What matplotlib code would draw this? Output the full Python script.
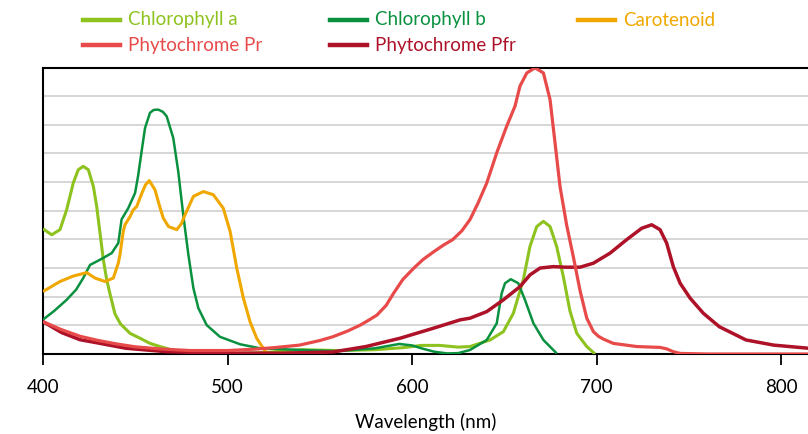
import matplotlib
matplotlib.use("Agg")
import matplotlib.pyplot as plt
from matplotlib.lines import Line2D

plt.rcParams['font.family'] = ['Lato', 'DejaVu Sans']

# absorbance spectra (arbitrary units, 0..10)
chla_wl = [400, 404.7, 409.2, 412.8, 416.4, 419.1, 421.8, 424.6, 427.3, 429.1, 430.9, 432.7, 434.5, 436.3, 439,
           442, 447.2, 452.6, 458, 463.4, 470, 480, 500, 520, 540, 560, 580, 595, 605, 615, 625, 631.4, 642.3,
           649.5, 654.9, 660.3, 663.9, 667.6, 671.2, 674.8, 678.4, 682, 685.6, 689.3, 694.7, 699.2]
chla_val = [4.37, 4.16, 4.34, 5.03, 5.97, 6.43, 6.55, 6.43, 5.85, 5.15, 4.22, 3.29, 2.6, 2.1, 1.4,
            1.05, 0.72, 0.55, 0.37, 0.26, 0.14, 0.05, 0.0, 0.05, 0.15, 0.12, 0.15, 0.22, 0.3, 0.3, 0.24, 0.26, 0.49,
            0.78, 1.42, 2.59, 3.75, 4.45, 4.63, 4.45, 3.75, 2.7, 1.5, 0.72, 0.26, 0.0]

chlb_wl = [400, 406, 412.8, 418, 421.8, 425.5, 430.9, 437.2, 440.8, 442.6, 446.2, 449.9, 451.5, 453.5, 455.3,
           458, 460, 462.5, 465, 467, 470.6, 473.3, 476, 478.8, 481.5, 484.2, 488.7, 495.9, 506.8, 517.6, 540,
           560, 580, 593, 600, 605, 612, 619, 625, 631.4, 640.5, 645.9, 648.6, 650.4, 653.5, 657.6, 661.2,
           665.8, 671.2, 678.4]
chlb_val = [1.2, 1.5, 1.89, 2.25, 2.65, 3.11, 3.29, 3.52, 3.87, 4.7, 5.09, 5.62, 6.2, 7.1, 7.89,
            8.42, 8.52, 8.53, 8.45, 8.3, 7.54, 6.37, 4.86, 3.46, 2.3, 1.6, 1.01, 0.6, 0.34, 0.2, 0.14,
            0.1, 0.2, 0.35, 0.3, 0.2, 0.08, 0.02, 0.03, 0.14, 0.49, 1.07, 2.12, 2.47, 2.61, 2.47, 1.89,
            1.07, 0.49, 0.02]

car_wl = [400, 409.2, 416.4, 423.7, 428.2, 433.6, 438.1, 440.8, 441.7, 443.5, 444.4, 447.2, 448.9, 450.8, 453.5,
          455.5, 457.6, 460.7, 463, 465.2, 468, 472.5, 475, 477, 481.5, 486.9, 492.3, 497.7, 501.4, 505, 508.6,
          512.2, 515.8, 519.4, 521]
car_val = [2.18, 2.53, 2.72, 2.84, 2.65, 2.53, 2.65, 3.17, 3.46, 4.28, 4.51, 4.8, 5.03, 5.15, 5.6,
           5.9, 6.05, 5.73, 5.2, 4.74, 4.45, 4.34, 4.55, 4.86, 5.5, 5.67, 5.56, 5.09, 4.28, 3.0, 1.95,
           1.13, 0.55, 0.2, 0.05]

pr_wl = [400, 410, 420, 430, 440, 450, 465, 480, 500, 515, 525, 539, 550, 557, 565, 572, 577, 581, 586, 590,
         595, 601, 606, 612, 617, 622, 627, 631.4, 636, 640.5, 645.9, 651.3, 655.8, 658.5, 662.2, 666.7, 671.2,
         674.8, 677.5, 680.2, 683.8, 687.4, 691.1, 694.7, 698.3, 701, 703.7, 709.1, 721.8, 734.4, 738, 741.6,
         745.3, 760, 815]
pr_val = [1.13, 0.85, 0.62, 0.47, 0.35, 0.25, 0.17, 0.12, 0.12, 0.17, 0.22, 0.31, 0.47, 0.6, 0.8, 1.01, 1.2, 1.36, 1.7, 2.12,
          2.6, 3.0, 3.3, 3.58, 3.8, 3.99, 4.3, 4.69, 5.3, 5.97, 7.02, 7.95, 8.65, 9.35, 9.81, 9.99, 9.81,
          8.88, 7.37, 5.85, 4.5, 3.4, 2.2, 1.25, 0.78, 0.62, 0.52, 0.37, 0.26, 0.23, 0.18, 0.08,
          0.02, 0.0, 0.0]

pfr_wl = [400, 410, 420, 431, 445, 467, 500, 530, 557, 575, 593.5, 611.6, 626, 631.4, 640.5, 649.5, 658.5, 663.9,
          669.4, 676.6, 683, 691.1, 698.3, 707.3, 716.3, 724.5, 729.9, 734.4, 738, 741.6, 745.3, 750.7, 757.9,
          766.6, 781, 796, 815]
pfr_val = [1.13, 0.75, 0.5, 0.37, 0.2, 0.08, 0.03, 0.03, 0.07, 0.26, 0.55, 0.9, 1.19, 1.25, 1.48, 1.89, 2.35, 2.76,
           3.0, 3.05, 3.03, 3.03, 3.17, 3.52, 3.99, 4.39, 4.51, 4.34, 3.87, 3.05, 2.47, 1.95, 1.42,
           0.95, 0.49, 0.31, 0.2]

series = [
    ('Chlorophyll a', chla_wl, chla_val, '#8DC21F', 2.2),
    ('Chlorophyll b', chlb_wl, chlb_val, '#0A9140', 1.8),
    ('Carotenoid', car_wl, car_val, '#F0A800', 2.2),
    ('Phytochrome Pfr', pfr_wl, pfr_val, '#AE1228', 2.5),
    ('Phytochrome Pr', pr_wl, pr_val, '#E84A4A', 2.3),
]

fig = plt.figure(figsize=(8.08, 4.34), dpi=100)
ax = fig.add_axes([43 / 808, 1 - 354 / 434, 1 - 43 / 808, (354 - 67.5) / 434])

for name, wl, val, col, lw in series:
    ax.plot(wl, val, color=col, lw=lw, solid_joinstyle='round', solid_capstyle='butt', zorder=3)

ax.set_xlim(400, 814.6)
ax.set_ylim(0, 10)
ax.set_yticks(range(0, 11))
ax.yaxis.grid(True, color='#cccccc', lw=1.1, zorder=0)
ax.set_axisbelow(True)
ax.tick_params(axis='y', left=False, labelleft=False)
ax.set_xticks([400, 500, 600, 700, 800])
ax.tick_params(axis='x', direction='out', length=8, width=1.3, labelsize=13.5, color='black', pad=10)
for s in ['left', 'top', 'bottom']:
    ax.spines[s].set_linewidth(1.5)
    ax.spines[s].set_color('black')
ax.spines['right'].set_visible(False)
ax.set_xlabel('Wavelength (nm)', fontsize=13.5, labelpad=12)

# legend drawn by hand so the columns sit evenly spaced
legend_items = [
    ('Chlorophyll a', '#8DC21F', 83, 20),
    ('Chlorophyll b', '#0A9140', 330, 20),
    ('Carotenoid', '#F0A800', 578, 20),
    ('Phytochrome Pr', '#E84A4A', 83, 45),
    ('Phytochrome Pfr', '#AE1228', 330, 45),
]
for label, col, x0, y0 in legend_items:
    fig.add_artist(Line2D([x0 / 808, (x0 + 37) / 808], [1 - y0 / 434, 1 - y0 / 434],
                          color=col, lw=3.2, transform=fig.transFigure))
    fig.text((x0 + 45) / 808, 1 - y0 / 434, label, color=col, fontsize=13.5, va='center', ha='left')

fig.savefig('out.png', dpi=100)
